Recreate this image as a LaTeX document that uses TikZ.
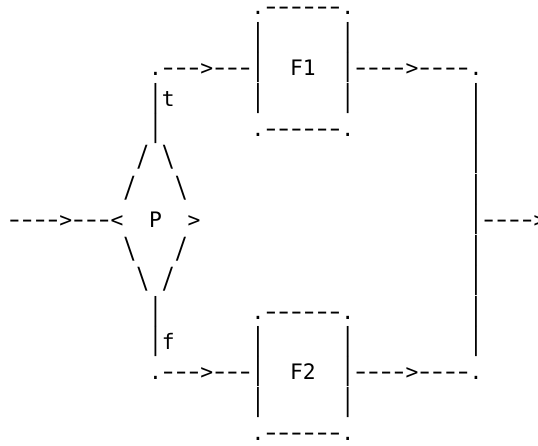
\documentclass[tikz,border=0pt]{standalone}
\usepackage{fontspec}
\usepackage{graphicx}
\setmonofont{DejaVu Sans Mono}
\newcommand\cw{12.82}
\newcommand\xo{8.09}
\newcommand\rh{30.43}
\newcommand\yb{14.8}
\newcommand\asciivb{\smash{\scalebox{1}[1.415]{|}}}
\newcommand\asciisl{\smash{\scalebox{1}[1.37]{/}}}
\newcommand\asciibs{\smash{\scalebox{1}[1.37]{\textbackslash}}}
\newcommand\D{\makebox[\cw pt]{\scalebox{1.5}[1.1]{-}}}
\newcommand\place[4]{\node[txt] (#1) at ({\xo+#2*\cw},{-(\yb+#3*\rh)}) {#4};}
\tikzset{txt/.style={inner sep=0pt, outer sep=0pt, anchor=base west, font=\ttfamily\fontsize{21.3}{25}\selectfont, text=black}}
\begin{document}
\begin{tikzpicture}[x=1pt,y=1pt]
\useasboundingbox (0,0) rectangle (538,-445);
\fill[white] (0,0) rectangle (538,-445);
\clip (0,0) rectangle (538,-445);
% F1 box
\place{fonetop}{19}{0}{.\D\D\D\D\D\D.}
\place{fonel1}{19}{1}{\asciivb}
\place{foner1}{26}{1}{\asciivb}
\place{tin}{11}{2}{.\D\D\D>\D\D\D}
\place{fonel2}{19}{2}{\asciivb}
\place{fone}{22}{2}{F1}
\place{foner2}{26}{2}{\asciivb}
\place{fout}{27}{2}{\D\D\D\D>\D\D\D\D.}
\place{tbar}{11}{3}{\asciivb}
\place{tlab}{12}{3}{t}
\place{fonel3}{19}{3}{\asciivb}
\place{foner3}{26}{3}{\asciivb}
\place{rb3}{36}{3}{\asciivb}
\place{tbarb}{11}{4}{\asciivb}
\place{fonebot}{19}{4}{.\D\D\D\D\D\D.}
\place{rb4}{36}{4}{\asciivb}
% diamond
\place{da}{10}{5}{\asciisl}
\place{db}{12}{5}{\asciibs}
\place{rb5}{36}{5}{\asciivb}
\place{dc}{9}{6}{\asciisl}
\place{dd}{13}{6}{\asciibs}
\place{rb6}{36}{6}{\asciivb}
\place{in}{0}{7}{\D\D\D\D>\D\D\D<}
\place{P}{11}{7}{P}
\place{dr}{14}{7}{>}
\place{rb7}{36}{7}{\asciivb}
\place{out}{37}{7}{\D\D\D\D>}
\place{de}{9}{8}{\asciibs}
\place{df}{13}{8}{\asciisl}
\place{rb8}{36}{8}{\asciivb}
\place{dg}{10}{9}{\asciibs}
\place{dh}{12}{9}{\asciisl}
\place{rb9}{36}{9}{\asciivb}
% F2 box
\place{fbar}{11}{10}{\asciivb}
\place{ftwotop}{19}{10}{.\D\D\D\D\D\D.}
\place{rb10}{36}{10}{\asciivb}
\place{fbarb}{11}{11}{\asciivb}
\place{flab}{12}{11}{f}
\place{ftwol1}{19}{11}{\asciivb}
\place{ftwor1}{26}{11}{\asciivb}
\place{rb11}{36}{11}{\asciivb}
\place{fin}{11}{12}{.\D\D\D>\D\D\D}
\place{ftwol2}{19}{12}{\asciivb}
\place{ftwo}{22}{12}{F2}
\place{ftwor2}{26}{12}{\asciivb}
\place{ftwoout}{27}{12}{\D\D\D\D>\D\D\D\D.}
\place{ftwol3}{19}{13}{\asciivb}
\place{ftwor3}{26}{13}{\asciivb}
\place{ftwobot}{19}{14}{.\D\D\D\D\D\D.}
\end{tikzpicture}
\end{document}
